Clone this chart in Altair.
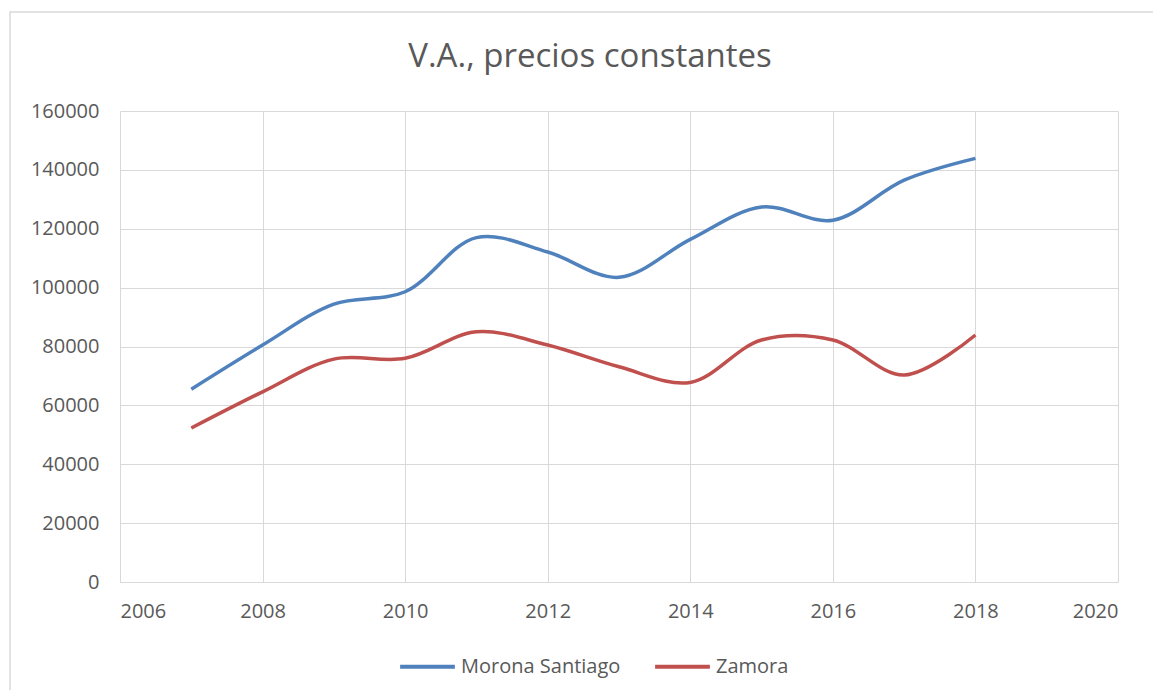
import altair as alt
import pandas as pd

years = [2007, 2008, 2009, 2010, 2011, 2012, 2013, 2014, 2015, 2016, 2017, 2018]
morona = [65500, 80500, 94400, 98600, 117000, 112100, 103500, 116400, 127400, 122900, 136500, 143900]
zamora = [52300, 64600, 75700, 76000, 85000, 80500, 73100, 67800, 82200, 82200, 70300, 83900]
series_names = ["Morona Santiago", "Zamora"]
series_colors = ["#4F81BD", "#C0504D"]
x_ticks = [2006, 2008, 2010, 2012, 2014, 2016, 2018, 2020]
y_ticks = [0, 20000, 40000, 60000, 80000, 100000, 120000, 140000, 160000]
title_text = "V.A., precios constantes"

rows = []
for y, a, b in zip(years, morona, zamora):
    rows.append({"year": y, "value": a, "serie": series_names[0]})
    rows.append({"year": y, "value": b, "serie": series_names[1]})
df = pd.DataFrame(rows)

FONT = "Open Sans"
GRAY = "#595959"
GRID = "#d9d9d9"

lines = alt.Chart(df).mark_line(strokeWidth=3.5, interpolate="catmull-rom").encode(
    x=alt.X("year:Q", scale=alt.Scale(domain=[2006, 2020], nice=False),
            axis=alt.Axis(values=x_ticks, format="d", title=None, grid=True, gridColor=GRID,
                          ticks=False, domain=True, domainColor=GRID, labelFontSize=20,
                          labelColor=GRAY, labelFont=FONT, labelPadding=19)),
    y=alt.Y("value:Q", scale=alt.Scale(domain=[0, 160000], nice=False),
            axis=alt.Axis(values=y_ticks, format="d", title=None, grid=True, gridColor=GRID,
                          ticks=False, domain=False, labelFontSize=20, labelColor=GRAY,
                          labelFont=FONT, labelPadding=21)),
    color=alt.Color("serie:N", scale=alt.Scale(domain=series_names, range=series_colors),
                    legend=alt.Legend(orient="none", legendX=278, legendY=526, direction="horizontal",
                                      title=None, symbolType="stroke", symbolSize=3000,
                                      symbolStrokeWidth=4, labelFontSize=20, labelColor=GRAY,
                                      labelFont=FONT, columnPadding=26, labelOffset=4)),
)

border = alt.Chart(pd.DataFrame({"a": [0]})).mark_rect(fill=None, stroke=GRID, strokeWidth=1.5, clip=False).encode(
    x=alt.value(-110), x2=alt.value(1045), y=alt.value(-99), y2=alt.value(600)
)

title = alt.Chart(pd.DataFrame({"t": [title_text]})).mark_text(
    font=FONT, fontSize=33, color=GRAY, align="center", baseline="middle", clip=False
).encode(text="t:N", x=alt.value(470), y=alt.value(-54))

chart = alt.layer(border, lines, title).properties(
    width=998, height=471,
    autosize=alt.AutoSizeParams(type="none"),
    padding={"left": 112, "top": 103, "right": 35, "bottom": 108},
).configure_view(stroke=None)

chart.save("out.html", embed_options={"renderer": "svg", "actions": False})
